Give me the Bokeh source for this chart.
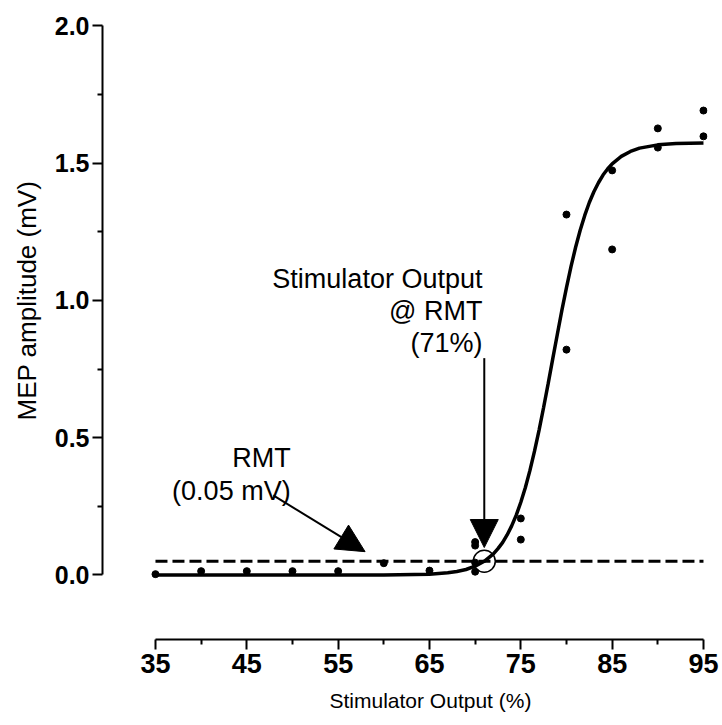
from bokeh.plotting import figure
from bokeh.models import FixedTicker, Label, Arrow, NormalHead, Range1d, Title, CustomJSTickFormatter
from bokeh.embed import file_html
from bokeh.resources import INLINE

# Data points (stimulator output %, MEP amplitude mV)
stim = [35, 40, 45, 50, 55, 60, 65, 70, 70, 70, 70, 75, 75, 80, 80, 85, 85, 90, 90, 95, 95]
mep = [0.003, 0.014, 0.014, 0.014, 0.014, 0.043, 0.016, 0.12, 0.107, 0.045, 0.012,
       0.206, 0.129, 1.313, 0.821, 1.474, 1.186, 1.627, 1.557, 1.692, 1.598]

# Fitted sigmoid curve
curve_x = [35, 50, 60, 65, 67, 68, 69, 70, 71, 72, 72.5, 73, 73.5, 74, 74.5, 75, 75.5, 76, 76.5,
           77, 77.5, 78, 78.5, 79, 79.5, 80, 80.5, 81, 81.5, 82, 82.5, 83, 83.5, 84, 84.5,
           85, 86, 87, 88, 90, 92, 95]
curve_y = [0.0, 0.0, 0.0003, 0.003, 0.008, 0.013, 0.020, 0.032, 0.050, 0.077, 0.096, 0.118, 0.146,
           0.179, 0.218, 0.265, 0.319, 0.381, 0.451, 0.528, 0.611, 0.698, 0.788, 0.877, 0.965,
           1.047, 1.124, 1.194, 1.256, 1.310, 1.357, 1.396, 1.429, 1.457, 1.479,
           1.498, 1.525, 1.543, 1.555, 1.567, 1.572, 1.574]

rmt_level = 0.05
rmt_x = 71
x_ticks = [35, 45, 55, 65, 75, 85, 95]
x_minor = [40, 50, 60, 70, 80, 90]
y_ticks = [0.0, 0.5, 1.0, 1.5, 2.0]
y_minor = [0.25, 0.75, 1.25, 1.75]
x_title = "Stimulator Output (%)"
y_title = "MEP amplitude (mV)"

FONT = "Liberation Sans"

p = figure(width=720, height=724, output_backend="svg", toolbar_location=None,
           x_range=Range1d(29.2, 95.44), y_range=Range1d(-0.235, 2.0018),
           min_border_left=99, min_border_right=13, min_border_top=25, min_border_bottom=85)
p.outline_line_color = None
p.xgrid.visible = False
p.ygrid.visible = False
p.background_fill_color = "white"
p.border_fill_color = "white"

for ax, ticks, minor, bnd, fs in ((p.xaxis, x_ticks, x_minor, (35, 95), "27px"),
                                  (p.yaxis, y_ticks, y_minor, (0, 2.0), "25px")):
    ax.ticker = FixedTicker(ticks=ticks, minor_ticks=minor)
    ax.bounds = bnd
    ax.axis_line_width = 2
    ax.major_tick_line_width = 2
    ax.minor_tick_line_width = 2
    ax.major_tick_out = 10
    ax.major_tick_in = 0
    ax.minor_tick_out = 5
    ax.minor_tick_in = 0
    ax.major_label_text_font = FONT
    ax.major_label_text_font_style = "bold"
    ax.major_label_text_font_size = fs
    ax.major_label_text_color = "black"
    ax.axis_line_color = "black"
    ax.major_tick_line_color = "black"
    ax.minor_tick_line_color = "black"
p.xaxis.major_label_standoff = 4
p.yaxis.major_label_standoff = 3
p.yaxis.formatter = CustomJSTickFormatter(code="return tick.toFixed(1);")

# axis titles centred on the axis bounds (not on the frame)
p.add_layout(Title(text=x_title, align="left", offset=227, standoff=22,
                   text_font=FONT, text_font_size="21px", text_font_style="normal",
                   text_color="black"), "below")
p.add_layout(Title(text=y_title, align="left", offset=219, standoff=19,
                   text_font=FONT, text_font_size="26px", text_font_style="normal",
                   text_color="black"), "left")

# dashed RMT line
p.line([35, 95], [rmt_level, rmt_level], line_color="black", line_width=3, line_dash="12 5")
# fitted curve
p.line(curve_x, curve_y, line_color="black", line_width=3.5)
# data points
p.scatter(stim, mep, size=7, color="black")
# open circle at RMT
p.scatter([rmt_x], [rmt_level], size=22, fill_color=None, line_color="black", line_width=1.5)

# arrows
p.add_layout(Arrow(end=NormalHead(size=28, fill_color="black", line_color="black"),
                   x_start=rmt_x, y_start=0.79, x_end=rmt_x, y_end=0.10,
                   line_width=2, line_color="black"))
p.add_layout(Arrow(end=NormalHead(size=28, fill_color="black", line_color="black"),
                   x_start=47.9, y_start=0.29, x_end=57.95, y_end=0.085,
                   line_width=2, line_color="black"))

def lab(text, x, y, size="27px", align="right", baseline="alphabetic"):
    p.add_layout(Label(x=x, y=y, text=text, text_font=FONT, text_font_size=size,
                       text_align=align, text_baseline=baseline, text_color="black"))

lab("Stimulator Output", 70.8, 1.08)
lab("@ RMT", 70.8, 0.962)
lab("(71%)", 70.8, 0.845)
lab("RMT", 49.8, 0.425)
lab("(0.05 mV)", 49.8, 0.305)

open("out.html", "w").write(file_html(p, INLINE))
